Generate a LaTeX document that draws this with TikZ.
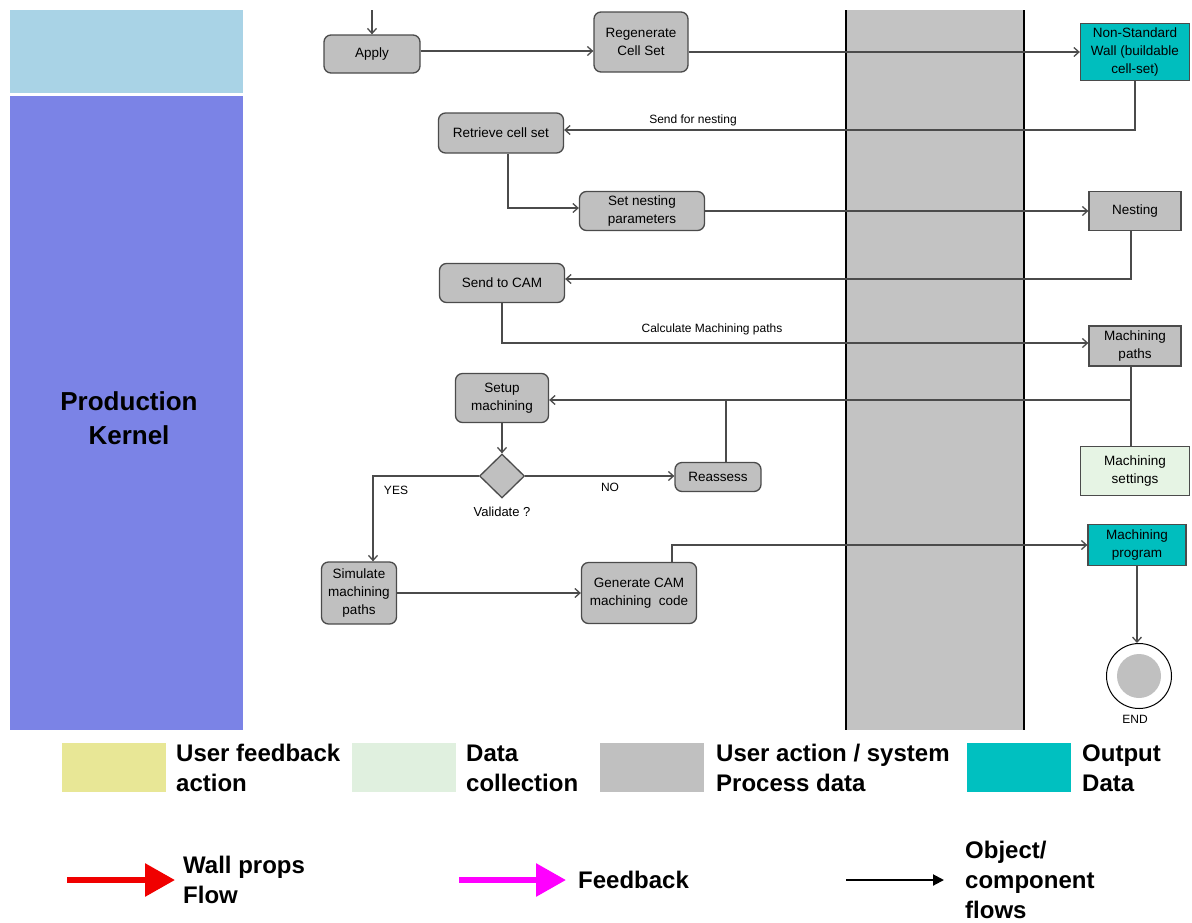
\documentclass[tikz,border=0pt]{standalone}
\usepackage{fontspec}
\setmainfont{Liberation Sans}
\usetikzlibrary{arrows.meta,shapes.geometric,calc}
\definecolor{procgray}{RGB}{192,192,192}
\definecolor{bandgray}{RGB}{195,195,195}
\definecolor{tealout}{RGB}{0,190,190}
\definecolor{setgreen}{RGB}{230,244,228}
\definecolor{legyellow}{RGB}{232,231,150}
\definecolor{leggreen}{RGB}{224,240,223}
\definecolor{legteal}{RGB}{0,192,192}
\definecolor{lightblue}{RGB}{169,211,230}
\definecolor{kernelblue}{RGB}{123,131,230}
\definecolor{linegray}{RGB}{75,75,75}
\definecolor{legred}{RGB}{240,0,0}
\definecolor{legmag}{RGB}{255,0,255}
\tikzset{
  act/.style={draw=linegray, line width=1.3pt, fill=procgray, rounded corners=7pt, align=center, font=\fontsize{13.5}{18}\selectfont, inner sep=0pt},
  obj/.style={draw=linegray, line width=1.3pt, fill=procgray, align=center, font=\fontsize{13.5}{18}\selectfont, inner sep=0pt},
  flow/.style={draw=linegray, line width=1.3pt, -{Straight Barb[length=5pt,width=9pt]}},
  plainline/.style={draw=linegray, line width=1.3pt},
  lbl/.style={font=\fontsize{12}{14}\selectfont},
  legtxt/.style={font=\bfseries\fontsize{24}{30}\selectfont, align=left, anchor=west, inner sep=0pt},
  legbox/.style={minimum width=104pt, minimum height=49pt, inner sep=0pt}
}
\begin{document}
\begin{tikzpicture}[x=1pt,y=-1pt]
\useasboundingbox (0,0) rectangle (1192,922);
% left panel
\fill[lightblue] (10,10) rectangle (243,93);
\fill[kernelblue] (10,96) rectangle (243,730);
\node[font=\bfseries\fontsize{26}{34}\selectfont, align=center] (pk) at (129,418) {Production\\Kernel};
% gray band
\fill[bandgray] (846,10) rectangle (1024,730);
\draw[black, line width=2.2pt] (846,10) -- (846,730);
\draw[black, line width=2.2pt] (1024,10) -- (1024,730);
% nodes
\node[act, minimum width=96pt, minimum height=38pt] (apply) at (372,54) {Apply};
\node[act, minimum width=94pt, minimum height=60pt] (regen) at (641,42) {Regenerate\\Cell Set};
\node[obj, fill=tealout, minimum width=109pt, minimum height=57pt] (nsw) at (1135,52) {Non-Standard\\Wall (buildable\\cell-set)};
\node[act, minimum width=125pt, minimum height=40pt] (retr) at (501,133) {Retrieve cell set};
\node[act, minimum width=125pt, minimum height=39pt] (setn) at (642,211) {Set nesting\\parameters};
\node[obj, minimum width=92pt, minimum height=39pt] (nest) at (1135,211) {Nesting};
\node[act, minimum width=125pt, minimum height=39pt] (cam) at (502,283) {Send to CAM};
\node[obj, minimum width=92pt, minimum height=40pt] (mpath) at (1135,346) {Machining\\paths};
\node[act, minimum width=93pt, minimum height=49pt] (setup) at (502,398) {Setup\\machining};
\node[diamond, draw=linegray, line width=1.3pt, fill=procgray, minimum width=45pt, minimum height=44pt, inner sep=0pt] (dia) at (502,476) {};
\node[act, minimum width=86pt, minimum height=29pt] (reas) at (718,477) {Reassess};
\node[obj, fill=setgreen, minimum width=109pt, minimum height=49pt] (mset) at (1135,471) {Machining\\settings};
\node[act, minimum width=75pt, minimum height=62pt] (sim) at (359,593) {Simulate\\machining\\paths};
\node[act, minimum width=115pt, minimum height=61pt] (gen) at (639,593) {Generate CAM\\machining\ \ code};
\node[obj, fill=tealout, minimum width=98pt, minimum height=41pt] (mprog) at (1137,545) {Machining\\program};
\node[circle, draw=black, line width=1pt, fill=white, minimum size=65pt, inner sep=0pt] (endc) at (1139,676) {};
\node[circle, fill=procgray, minimum size=44pt, inner sep=0pt] (endin) at (endc) {};
% labels
\node[lbl] (l1) at (693,120) {Send for nesting};
\node[lbl] (l2) at (712,329) {Calculate Machining paths};
\node[lbl] (lno) at (610,487) {NO};
\node[lbl] (lyes) at (396,490) {YES};
\node[font=\fontsize{13}{15}\selectfont] (lval) at (502,512) {Validate ?};
\node[lbl] (lend) at (1135,719) {END};
% connectors
\coordinate (topin) at (372,10);
\draw[flow] (topin) -- (apply.north);
\draw[flow] ([yshift=3pt]apply.east) -- ([yshift=3pt]apply.east -| regen.west);
\draw[flow] (regen.east |- nsw.west) -- (nsw.west);
\draw[flow] (nsw.south) |- ([yshift=3pt]retr.east);
\draw[flow] ([xshift=7pt]retr.south) |- ([yshift=3pt]setn.west);
\draw[flow] (setn.east) -- (setn.east -| nest.west);
\draw[flow] ([xshift=-4pt]nest.south) |- ([yshift=4pt]cam.east);
\draw[flow] (cam.south) |- ([yshift=3pt]mpath.west);
\coordinate (j1) at (1131,400);
\coordinate (j2) at (726,400);
\draw[flow] ([xshift=-4pt]mpath.south) |- (setup.east |- j1);
\draw[plainline] (j1) -- (j1 |- mset.north);
\draw[plainline] (reas.north -| j2) -- (j2);
\draw[flow] (setup.south) -- (dia.north);
\draw[flow] (dia.east) -- (dia.east -| reas.west);
\draw[flow] (dia.west) -| ([xshift=14pt]sim.north);
\draw[flow] (sim.east) -- (sim.east -| gen.west);
\draw[flow] ([xshift=33pt]gen.north) |- (mprog.west);
\draw[flow] (mprog.south) -- (mprog.south |- endc.north);
% legend
\node[legbox, fill=legyellow] (lb1) at (114,767) {};
\node[legtxt] (lt1) at (176,768) {User feedback\\action};
\node[legbox, fill=leggreen] (lb2) at (404,767) {};
\node[legtxt] (lt2) at (466,768) {Data\\collection};
\node[legbox, fill=procgray] (lb3) at (652,767) {};
\node[legtxt] (lt3) at (716,768) {User action / system\\Process data};
\node[legbox, fill=legteal] (lb4) at (1019,767) {};
\node[legtxt] (lt4) at (1082,768) {Output\\Data};
\coordinate (ra) at (67,880);
\coordinate (rb) at (175,880);
\draw[legred, line width=6pt, -{Triangle[length=30pt 0,width=32pt 0]}] (ra) -- (rb);
\node[legtxt] (lt5) at (183,880) {Wall props\\Flow};
\coordinate (ma) at (459,880);
\coordinate (mb) at (566,880);
\draw[legmag, line width=6pt, -{Triangle[length=30pt 0,width=32pt 0]}] (ma) -- (mb);
\node[legtxt] (lt6) at (578,880) {Feedback};
\coordinate (ka) at (846,880);
\coordinate (kb) at (944,880);
\draw[black, line width=2pt, -{Triangle[length=11pt 0,width=11pt 0]}] (ka) -- (kb);
\node[legtxt] (lt7) at (965,880) {Object/\\component\\flows};
\end{tikzpicture}
\end{document}
